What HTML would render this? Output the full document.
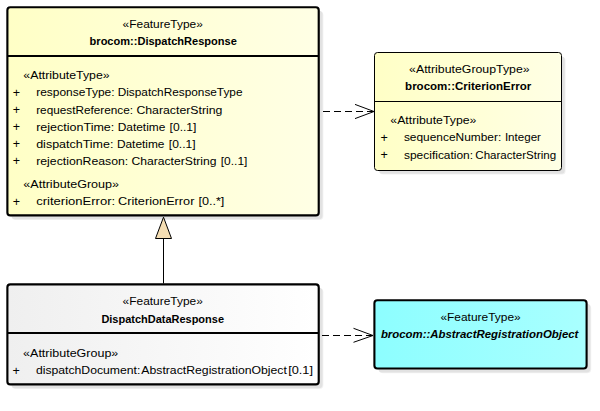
<!DOCTYPE html>
<html lang="en"><head><meta charset="utf-8"><title>DispatchResponse diagram</title>
<style>
html,body{margin:0;padding:0;background:#fff;}
body{width:600px;height:411px;overflow:hidden;}
svg{display:block;}
text{font-family:"Liberation Sans",sans-serif;font-size:11.1px;fill:#000;}
.b{font-weight:bold;}
.bi{font-weight:bold;font-style:italic;}
</style></head><body>
<svg width="600" height="411" viewBox="0 0 600 411">
<defs>
<linearGradient id="gy" x1="0" y1="0" x2="1" y2="0"><stop offset="0" stop-color="#ffffc6"/><stop offset="1" stop-color="#ffffe5"/></linearGradient>
<linearGradient id="gg" x1="0" y1="0" x2="1" y2="0"><stop offset="0" stop-color="#efefef"/><stop offset="1" stop-color="#ffffff"/></linearGradient>
<linearGradient id="gc" x1="0" y1="0" x2="1" y2="0"><stop offset="0" stop-color="#8dfeff"/><stop offset="1" stop-color="#a9ffff"/></linearGradient>
</defs>
<rect width="600" height="411" fill="#fff"/>
<rect x="11.80" y="11.20" width="311.60" height="208.80" rx="4" fill="#f2f2f2"/>
<rect x="11.30" y="10.70" width="311.30" height="208.50" rx="4" fill="#e2e2e2"/>
<rect x="7.38" y="7.28" width="311.35" height="208.05" rx="2.92" fill="url(#gy)" stroke="#000" stroke-width="2.15"/>
<line x1="7.38" y1="56" x2="318.73" y2="56" stroke="#000" stroke-width="2"/>
<rect x="379.50" y="57.00" width="186.10" height="117.60" rx="3.5" fill="#f2f2f2"/>
<rect x="379.00" y="56.50" width="185.80" height="117.30" rx="3.5" fill="#e2e2e2"/>
<rect x="374.50" y="52.50" width="187.00" height="118.00" rx="3.00" fill="url(#gy)" stroke="#000" stroke-width="1"/>
<line x1="374.50" y1="101.5" x2="561.50" y2="101.5" stroke="#000" stroke-width="1"/>
<rect x="11.80" y="288.30" width="311.60" height="100.80" rx="4" fill="#f2f2f2"/>
<rect x="11.30" y="287.80" width="311.30" height="100.50" rx="4" fill="#e2e2e2"/>
<rect x="7.38" y="284.38" width="311.35" height="100.05" rx="2.92" fill="url(#gg)" stroke="#000" stroke-width="2.15"/>
<line x1="7.38" y1="333" x2="318.73" y2="333" stroke="#000" stroke-width="2"/>
<rect x="378.85" y="304.20" width="212.40" height="69.00" rx="4" fill="#f2f2f2"/>
<rect x="378.35" y="303.70" width="212.10" height="68.70" rx="4" fill="#e2e2e2"/>
<rect x="374.40" y="300.25" width="212.20" height="68.30" rx="2.95" fill="url(#gc)" stroke="#000" stroke-width="2.1"/>
<line x1="163.5" y1="238.5" x2="163.5" y2="283.5" stroke="#000" stroke-width="1"/>
<polygon points="163.5,217.2 155.5,238.5 171.5,238.5" fill="#f5deb3" stroke="#000" stroke-width="1" stroke-linejoin="miter"/>
<line x1="323" y1="111.5" x2="374" y2="111.5" stroke="#000" stroke-width="1" stroke-dasharray="7 4"/>
<polyline points="355,104.4 374,111.5 355,118.6" fill="none" stroke="#000" stroke-width="1"/>
<line x1="322" y1="335.5" x2="373" y2="335.5" stroke="#000" stroke-width="1" stroke-dasharray="7 4"/>
<polyline points="353.5,328.3 373,335.5 353.5,342.3" fill="none" stroke="#000" stroke-width="1"/>
<text x="122.6" y="27.8" textLength="80.2" lengthAdjust="spacingAndGlyphs">«FeatureType»</text>
<text x="89.6" y="45.4" textLength="147.2" lengthAdjust="spacingAndGlyphs" class="b">brocom::DispatchResponse</text>
<text x="23.3" y="78.7" textLength="86.4" lengthAdjust="spacingAndGlyphs">«AttributeType»</text>
<text x="36.2" y="96.4" textLength="78.4" lengthAdjust="spacingAndGlyphs">responseType:</text>
<text x="117.7" y="96.4" textLength="124.8" lengthAdjust="spacingAndGlyphs">DispatchResponseType</text>
<text x="36.2" y="113.5" textLength="96.8" lengthAdjust="spacingAndGlyphs">requestReference:</text>
<text x="136.4" y="113.5" textLength="86.0" lengthAdjust="spacingAndGlyphs">CharacterString</text>
<text x="36.2" y="130.6" textLength="78.1" lengthAdjust="spacingAndGlyphs">rejectionTime:</text>
<text x="117.7" y="130.6" textLength="47.7" lengthAdjust="spacingAndGlyphs">Datetime</text>
<text x="169.6" y="130.6" textLength="26.8" lengthAdjust="spacingAndGlyphs">[0..1]</text>
<text x="36.2" y="147.8" textLength="77.2" lengthAdjust="spacingAndGlyphs">dispatchTime:</text>
<text x="116.9" y="147.8" textLength="47.6" lengthAdjust="spacingAndGlyphs">Datetime</text>
<text x="168.8" y="147.8" textLength="26.8" lengthAdjust="spacingAndGlyphs">[0..1]</text>
<text x="36.2" y="164.9" textLength="92.1" lengthAdjust="spacingAndGlyphs">rejectionReason:</text>
<text x="131.5" y="164.9" textLength="85.0" lengthAdjust="spacingAndGlyphs">CharacterString</text>
<text x="220.8" y="164.9" textLength="26.6" lengthAdjust="spacingAndGlyphs">[0..1]</text>
<text x="23.3" y="187.5" textLength="95.8" lengthAdjust="spacingAndGlyphs">«AttributeGroup»</text>
<text x="36.2" y="205.4" textLength="79.0" lengthAdjust="spacingAndGlyphs">criterionError:</text>
<text x="118.1" y="205.4" textLength="76.3" lengthAdjust="spacingAndGlyphs">CriterionError</text>
<text x="198.4" y="205.4" textLength="26.0" lengthAdjust="spacingAndGlyphs">[0..*]</text>
<text x="409.1" y="73.2" textLength="120.5" lengthAdjust="spacingAndGlyphs">«AttributeGroupType»</text>
<text x="405.1" y="90.2" textLength="126.1" lengthAdjust="spacingAndGlyphs" class="b">brocom::CriterionError</text>
<text x="390.3" y="123.5" textLength="86.1" lengthAdjust="spacingAndGlyphs">«AttributeType»</text>
<text x="403.9" y="141.4" textLength="97.3" lengthAdjust="spacingAndGlyphs">sequenceNumber:</text>
<text x="504.9" y="141.4" textLength="36.1" lengthAdjust="spacingAndGlyphs">Integer</text>
<text x="404.0" y="158.8" textLength="69.1" lengthAdjust="spacingAndGlyphs">specification:</text>
<text x="475.3" y="158.8" textLength="80.9" lengthAdjust="spacingAndGlyphs">CharacterString</text>
<text x="122.6" y="304.7" textLength="80.2" lengthAdjust="spacingAndGlyphs">«FeatureType»</text>
<text x="101.4" y="323.2" textLength="122.6" lengthAdjust="spacingAndGlyphs" class="b">DispatchDataResponse</text>
<text x="23.1" y="356.8" textLength="95.2" lengthAdjust="spacingAndGlyphs">«AttributeGroup»</text>
<text x="35.9" y="374.2" textLength="104.5" lengthAdjust="spacingAndGlyphs">dispatchDocument:</text>
<text x="141.3" y="374.2" textLength="145.6" lengthAdjust="spacingAndGlyphs">AbstractRegistrationObject</text>
<text x="288.2" y="374.2" textLength="24.8" lengthAdjust="spacingAndGlyphs">[0.1]</text>
<text x="440.4" y="320.6" textLength="80.3" lengthAdjust="spacingAndGlyphs">«FeatureType»</text>
<text x="380.9" y="338" textLength="197.5" lengthAdjust="spacingAndGlyphs" class="bi">brocom::AbstractRegistrationObject</text>
<text x="12.7" y="96.7" style="font-size:12.5px">+</text>
<text x="12.7" y="113.8" style="font-size:12.5px">+</text>
<text x="12.7" y="130.9" style="font-size:12.5px">+</text>
<text x="12.7" y="148.1" style="font-size:12.5px">+</text>
<text x="12.7" y="165.2" style="font-size:12.5px">+</text>
<text x="12.7" y="205.7" style="font-size:12.5px">+</text>
<text x="380.6" y="141.7" style="font-size:12.5px">+</text>
<text x="380.6" y="159.1" style="font-size:12.5px">+</text>
<text x="12.5" y="374.5" style="font-size:12.5px">+</text>
</svg></body></html>
